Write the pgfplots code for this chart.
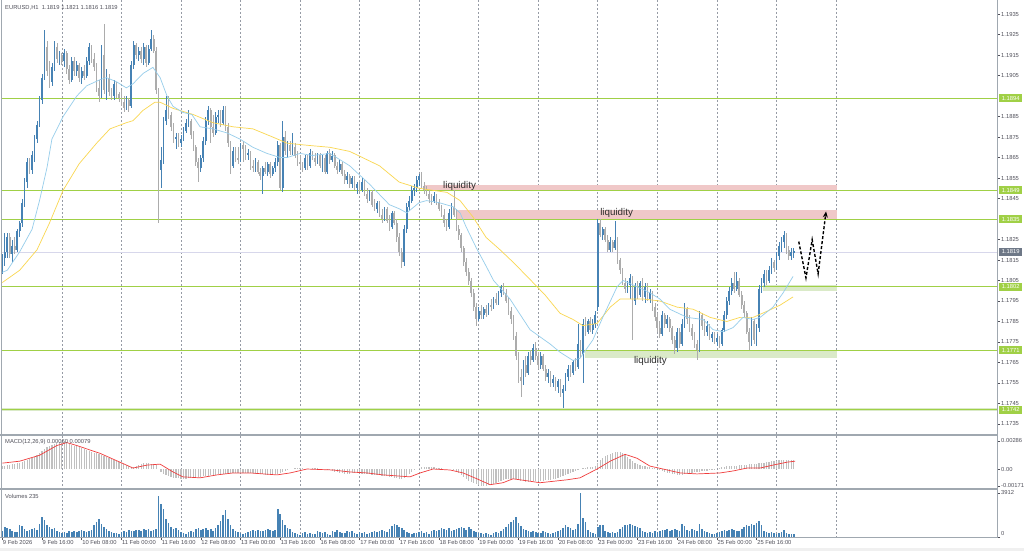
\documentclass[border=0pt]{standalone}
\usepackage{fontspec}
\setmainfont{Liberation Sans}
\usepackage{pgfplots}
\pgfplotsset{compat=1.18}
\usepackage{pgfplotstable}
\usetikzlibrary{arrows.meta}
\definecolor{cup}{RGB}{70,130,180}
\definecolor{cdn}{RGB}{172,172,172}
\definecolor{lvl}{RGB}{160,208,70}
\definecolor{mablue}{RGB}{150,205,235}
\definecolor{mayel}{RGB}{250,215,80}
\definecolor{liqred}{RGB}{240,200,200}
\definecolor{liqgreen}{RGB}{218,234,200}
\definecolor{sepc}{RGB}{160,168,176}
\definecolor{gridc}{RGB}{150,155,165}
\definecolor{labc}{RGB}{80,80,90}
\definecolor{histc}{RGB}{192,192,192}
\definecolor{sigc}{RGB}{240,60,60}
\definecolor{bidc}{RGB}{215,215,235}
\definecolor{boxgray}{RGB}{110,120,135}
\definecolor{liqtext}{RGB}{45,45,45}
\newcommand{\smallfnt}{\fontsize{5.8bp}{6.5bp}\selectfont}
\newcommand{\liqfnt}{\fontsize{9.8bp}{11bp}\selectfont}

\pgfplotstableread{
i o h l c v m
0 1.1813 1.1818 1.1808 1.1816 534 0.0003
1 1.1816 1.1828 1.1812 1.1819 890 0.0003
2 1.1819 1.1828 1.1816 1.1826 801 0.0004
3 1.1826 1.1828 1.1816 1.1818 712 0.0004
4 1.1818 1.1825 1.1814 1.1822 534 0.0005
5 1.1822 1.1826 1.1818 1.1820 445 0.0005
6 1.1820 1.1830 1.1819 1.1829 445 0.0006
7 1.1829 1.1834 1.1826 1.1833 1068 0.0006
8 1.1833 1.1845 1.1831 1.1843 979 0.0007
9 1.1843 1.1855 1.1841 1.1853 712 0.0008
10 1.1853 1.1865 1.1850 1.1863 534 0.0009
11 1.1863 1.1865 1.1857 1.1859 623 0.0010
12 1.1859 1.1868 1.1857 1.1866 712 0.0011
13 1.1866 1.1876 1.1863 1.1874 801 0.0012
14 1.1874 1.1883 1.1872 1.1881 623 0.0014
15 1.1881 1.1895 1.1880 1.1893 1157 0.0016
16 1.1893 1.1906 1.1891 1.1904 1780 0.0018
17 1.1904 1.1927 1.1903 1.1919 1513 0.0020
18 1.1919 1.1922 1.1905 1.1907 1068 0.0022
19 1.1907 1.1912 1.1899 1.1902 890 0.0024
20 1.1902 1.1911 1.1900 1.1909 712 0.0025
21 1.1909 1.1922 1.1907 1.1919 801 0.0026
22 1.1919 1.1921 1.1911 1.1913 534 0.0027
23 1.1913 1.1917 1.1910 1.1915 445 0.0028
24 1.1915 1.1916 1.1910 1.1912 356 0.0028
25 1.1912 1.1918 1.1909 1.1916 445 0.0028
26 1.1916 1.1917 1.1906 1.1908 356 0.0027
27 1.1908 1.1910 1.1901 1.1903 534 0.0026
28 1.1903 1.1914 1.1902 1.1912 445 0.0025
29 1.1912 1.1914 1.1905 1.1907 534 0.0024
30 1.1907 1.1912 1.1905 1.1910 445 0.0023
31 1.1910 1.1911 1.1902 1.1904 534 0.0022
32 1.1904 1.1909 1.1901 1.1907 623 0.0021
33 1.1907 1.1910 1.1903 1.1905 534 0.0020
34 1.1905 1.1914 1.1904 1.1912 445 0.0019
35 1.1912 1.1921 1.1910 1.1919 534 0.0018
36 1.1919 1.1920 1.1911 1.1913 623 0.0017
37 1.1913 1.1916 1.1907 1.1909 1068 0.0016
38 1.1909 1.1911 1.1897 1.1899 1335 0.0016
39 1.1899 1.1903 1.1892 1.1895 1602 0.0015
40 1.1895 1.1920 1.1894 1.1915 1157 0.0014
41 1.1915 1.1930 1.1896 1.1898 890 0.0013
42 1.1898 1.1908 1.1893 1.1904 712 0.0012
43 1.1904 1.1906 1.1895 1.1897 534 0.0011
44 1.1897 1.1899 1.1893 1.1895 445 0.0010
45 1.1895 1.1903 1.1893 1.1901 356 0.0009
46 1.1901 1.1902 1.1894 1.1896 356 0.0008
47 1.1896 1.1897 1.1892 1.1894 267 0.0007
48 1.1894 1.1898 1.1890 1.1892 445 0.0006
49 1.1892 1.1895 1.1887 1.1889 534 0.0005
50 1.1889 1.1895 1.1888 1.1893 445 0.0004
51 1.1893 1.1894 1.1887 1.1890 623 0.0003
52 1.1890 1.1912 1.1889 1.1910 534 0.0002
53 1.1910 1.1922 1.1908 1.1920 534 0.0002
54 1.1920 1.1921 1.1913 1.1915 623 0.0003
55 1.1915 1.1919 1.1912 1.1917 623 0.0004
56 1.1917 1.1919 1.1911 1.1913 534 0.0005
57 1.1913 1.1921 1.1910 1.1919 712 0.0006
58 1.1919 1.1920 1.1909 1.1911 623 0.0006
59 1.1911 1.1920 1.1910 1.1918 712 0.0006
60 1.1918 1.1927 1.1917 1.1923 534 0.0005
61 1.1923 1.1925 1.1916 1.1917 623 0.0005
62 1.1917 1.1919 1.1896 1.1898 712 0.0004
63 1.1898 1.1899 1.1833 1.1859 3649 0.0000
64 1.1859 1.1870 1.1850 1.1864 2937 -0.0003
65 1.1864 1.1885 1.1862 1.1883 2492 -0.0005
66 1.1883 1.1895 1.1881 1.1888 1602 -0.0006
67 1.1888 1.1895 1.1884 1.1886 1246 -0.0007
68 1.1886 1.1887 1.1878 1.1880 890 -0.0008
69 1.1880 1.1882 1.1872 1.1874 712 -0.0009
70 1.1874 1.1877 1.1869 1.1875 801 -0.0009
71 1.1875 1.1877 1.1870 1.1872 623 -0.0009
72 1.1872 1.1876 1.1870 1.1874 445 -0.0010
73 1.1874 1.1880 1.1873 1.1878 356 -0.0010
74 1.1878 1.1884 1.1877 1.1882 267 -0.0010
75 1.1882 1.1888 1.1880 1.1883 445 -0.0009
76 1.1883 1.1884 1.1874 1.1876 534 -0.0009
77 1.1876 1.1878 1.1868 1.1870 445 -0.0009
78 1.1870 1.1871 1.1861 1.1863 712 -0.0008
79 1.1863 1.1865 1.1853 1.1860 801 -0.0008
80 1.1860 1.1866 1.1858 1.1865 623 -0.0008
81 1.1865 1.1875 1.1863 1.1873 712 -0.0007
82 1.1873 1.1885 1.1871 1.1883 801 -0.0007
83 1.1883 1.1890 1.1881 1.1888 623 -0.0007
84 1.1888 1.1889 1.1872 1.1880 712 -0.0006
85 1.1880 1.1886 1.1875 1.1877 534 -0.0006
86 1.1877 1.1887 1.1876 1.1885 801 -0.0006
87 1.1885 1.1888 1.1882 1.1886 1068 -0.0005
88 1.1886 1.1888 1.1880 1.1882 1424 -0.0005
89 1.1882 1.1890 1.1881 1.1888 1958 -0.0005
90 1.1888 1.1890 1.1878 1.1880 2403 -0.0005
91 1.1880 1.1882 1.1870 1.1872 1602 -0.0004
92 1.1872 1.1873 1.1857 1.1861 1068 -0.0004
93 1.1861 1.1870 1.1860 1.1868 712 -0.0004
94 1.1868 1.1870 1.1863 1.1865 534 -0.0004
95 1.1865 1.1870 1.1862 1.1864 445 -0.0004
96 1.1864 1.1872 1.1863 1.1871 356 -0.0004
97 1.1871 1.1873 1.1863 1.1869 267 -0.0004
98 1.1869 1.1871 1.1864 1.1866 356 -0.0004
99 1.1866 1.1869 1.1864 1.1867 445 -0.0004
100 1.1867 1.1868 1.1859 1.1861 534 -0.0004
101 1.1861 1.1864 1.1858 1.1860 623 -0.0004
102 1.1860 1.1865 1.1858 1.1863 534 -0.0005
103 1.1863 1.1864 1.1857 1.1858 623 -0.0005
104 1.1858 1.1860 1.1854 1.1856 534 -0.0005
105 1.1856 1.1861 1.1847 1.1860 534 -0.0005
106 1.1860 1.1863 1.1857 1.1858 623 -0.0006
107 1.1858 1.1863 1.1856 1.1862 712 -0.0006
108 1.1862 1.1863 1.1855 1.1857 623 -0.0006
109 1.1857 1.1861 1.1856 1.1860 534 -0.0006
110 1.1860 1.1865 1.1858 1.1863 623 -0.0005
111 1.1863 1.1873 1.1861 1.1871 2492 -0.0005
112 1.1871 1.1872 1.1849 1.1850 2047 -0.0004
113 1.1850 1.1883 1.1848 1.1875 1513 -0.0003
114 1.1875 1.1878 1.1866 1.1868 1068 -0.0002
115 1.1868 1.1873 1.1865 1.1871 801 -0.0001
116 1.1871 1.1873 1.1866 1.1868 712 0.0000
117 1.1868 1.1877 1.1866 1.1870 445 0.0000
118 1.1870 1.1872 1.1865 1.1866 356 0.0001
119 1.1866 1.1868 1.1861 1.1863 267 0.0001
120 1.1863 1.1866 1.1860 1.1862 178 0.0001
121 1.1862 1.1863 1.1858 1.1860 356 0.0001
122 1.1860 1.1866 1.1859 1.1865 445 0.0000
123 1.1865 1.1866 1.1859 1.1861 267 0.0000
124 1.1861 1.1869 1.1860 1.1867 356 0.0000
125 1.1867 1.1868 1.1864 1.1865 267 0.0001
126 1.1865 1.1867 1.1861 1.1863 267 0.0001
127 1.1863 1.1867 1.1862 1.1866 534 0.0001
128 1.1866 1.1867 1.1860 1.1861 445 0.0000
129 1.1861 1.1866 1.1858 1.1865 356 0.0000
130 1.1865 1.1866 1.1857 1.1858 445 0.0000
131 1.1858 1.1868 1.1857 1.1867 267 -0.0001
132 1.1867 1.1869 1.1862 1.1864 178 -0.0001
133 1.1864 1.1868 1.1863 1.1866 534 -0.0002
134 1.1866 1.1867 1.1860 1.1861 445 -0.0003
135 1.1861 1.1863 1.1857 1.1859 623 -0.0003
136 1.1859 1.1864 1.1858 1.1862 445 -0.0004
137 1.1862 1.1863 1.1856 1.1857 356 -0.0004
138 1.1857 1.1859 1.1852 1.1854 356 -0.0005
139 1.1854 1.1858 1.1852 1.1856 534 -0.0005
140 1.1856 1.1857 1.1850 1.1852 445 -0.0005
141 1.1852 1.1856 1.1850 1.1855 534 -0.0004
142 1.1855 1.1856 1.1849 1.1850 356 -0.0004
143 1.1850 1.1853 1.1847 1.1852 267 -0.0004
144 1.1852 1.1854 1.1848 1.1849 445 -0.0004
145 1.1849 1.1855 1.1848 1.1853 356 -0.0005
146 1.1853 1.1854 1.1846 1.1847 445 -0.0005
147 1.1847 1.1850 1.1843 1.1845 267 -0.0005
148 1.1845 1.1849 1.1844 1.1848 356 -0.0005
149 1.1848 1.1849 1.1841 1.1842 445 -0.0006
150 1.1842 1.1845 1.1839 1.1840 534 -0.0006
151 1.1840 1.1844 1.1838 1.1843 445 -0.0006
152 1.1843 1.1844 1.1836 1.1837 534 -0.0006
153 1.1837 1.1840 1.1833 1.1835 623 -0.0007
154 1.1835 1.1841 1.1834 1.1840 534 -0.0007
155 1.1840 1.1841 1.1833 1.1834 445 -0.0007
156 1.1834 1.1837 1.1829 1.1831 712 -0.0008
157 1.1831 1.1839 1.1830 1.1838 979 -0.0008
158 1.1838 1.1839 1.1832 1.1833 1157 -0.0009
159 1.1833 1.1835 1.1824 1.1826 1068 -0.0009
160 1.1826 1.1828 1.1817 1.1819 890 -0.0010
161 1.1819 1.1821 1.1811 1.1814 801 -0.0010
162 1.1814 1.1832 1.1812 1.1830 623 -0.0009
163 1.1830 1.1843 1.1828 1.1841 445 -0.0007
164 1.1841 1.1846 1.1839 1.1844 356 -0.0005
165 1.1844 1.1851 1.1843 1.1849 267 -0.0003
166 1.1849 1.1852 1.1846 1.1850 356 -0.0001
167 1.1850 1.1856 1.1848 1.1854 356 0.0000
168 1.1854 1.1857 1.1851 1.1856 445 0.0001
169 1.1856 1.1858 1.1850 1.1851 534 0.0002
170 1.1851 1.1853 1.1847 1.1849 356 0.0002
171 1.1849 1.1851 1.1846 1.1847 445 0.0002
172 1.1847 1.1849 1.1843 1.1845 267 0.0002
173 1.1845 1.1847 1.1842 1.1844 534 0.0002
174 1.1844 1.1848 1.1843 1.1846 623 0.0002
175 1.1846 1.1847 1.1842 1.1843 534 0.0001
176 1.1843 1.1845 1.1839 1.1840 623 0.0001
177 1.1840 1.1842 1.1836 1.1837 801 0.0001
178 1.1837 1.1840 1.1831 1.1833 712 0.0000
179 1.1833 1.1835 1.1829 1.1831 623 0.0000
180 1.1831 1.1840 1.1830 1.1838 801 0.0000
181 1.1838 1.1843 1.1835 1.1841 534 0.0000
182 1.1841 1.1849 1.1836 1.1837 623 -0.0001
183 1.1837 1.1840 1.1829 1.1830 712 -0.0002
184 1.1830 1.1832 1.1825 1.1827 801 -0.0004
185 1.1827 1.1828 1.1819 1.1821 890 -0.0006
186 1.1821 1.1822 1.1812 1.1814 801 -0.0008
187 1.1814 1.1816 1.1807 1.1809 623 -0.0010
188 1.1809 1.1811 1.1803 1.1805 890 -0.0012
189 1.1805 1.1806 1.1797 1.1799 712 -0.0013
190 1.1799 1.1801 1.1790 1.1792 534 -0.0014
191 1.1792 1.1794 1.1783 1.1786 445 -0.0015
192 1.1786 1.1792 1.1785 1.1790 356 -0.0016
193 1.1790 1.1793 1.1786 1.1788 356 -0.0017
194 1.1788 1.1792 1.1786 1.1791 267 -0.0017
195 1.1791 1.1793 1.1787 1.1789 356 -0.0017
196 1.1789 1.1794 1.1788 1.1793 267 -0.0016
197 1.1793 1.1796 1.1790 1.1792 178 -0.0016
198 1.1792 1.1797 1.1791 1.1796 356 -0.0015
199 1.1796 1.1799 1.1793 1.1794 445 -0.0014
200 1.1794 1.1800 1.1793 1.1799 356 -0.0013
201 1.1799 1.1803 1.1797 1.1802 534 -0.0012
202 1.1802 1.1804 1.1798 1.1799 712 -0.0011
203 1.1799 1.1801 1.1794 1.1795 890 -0.0010
204 1.1795 1.1797 1.1788 1.1790 1157 -0.0010
205 1.1790 1.1792 1.1784 1.1786 1335 -0.0010
206 1.1786 1.1788 1.1776 1.1778 1513 -0.0010
207 1.1778 1.1780 1.1766 1.1768 1780 -0.0010
208 1.1768 1.1770 1.1755 1.1758 1246 -0.0011
209 1.1758 1.1762 1.1748 1.1756 979 -0.0012
210 1.1756 1.1766 1.1754 1.1764 712 -0.0012
211 1.1764 1.1768 1.1758 1.1760 623 -0.0013
212 1.1760 1.1770 1.1759 1.1768 534 -0.0013
213 1.1768 1.1771 1.1764 1.1766 445 -0.0012
214 1.1766 1.1774 1.1765 1.1772 534 -0.0012
215 1.1772 1.1775 1.1766 1.1768 445 -0.0012
216 1.1768 1.1770 1.1762 1.1764 356 -0.0012
217 1.1764 1.1770 1.1762 1.1768 356 -0.0012
218 1.1768 1.1769 1.1761 1.1762 534 -0.0012
219 1.1762 1.1764 1.1756 1.1758 445 -0.0011
220 1.1758 1.1762 1.1755 1.1760 356 -0.0011
221 1.1760 1.1761 1.1753 1.1755 267 -0.0011
222 1.1755 1.1759 1.1753 1.1757 356 -0.0010
223 1.1757 1.1758 1.1751 1.1753 445 -0.0010
224 1.1753 1.1757 1.1750 1.1756 534 -0.0009
225 1.1756 1.1757 1.1748 1.1750 623 -0.0008
226 1.1750 1.1754 1.1743 1.1752 801 -0.0007
227 1.1752 1.1760 1.1751 1.1758 1068 -0.0006
228 1.1758 1.1764 1.1756 1.1762 890 -0.0005
229 1.1762 1.1764 1.1758 1.1760 801 -0.0004
230 1.1760 1.1766 1.1759 1.1765 623 -0.0003
231 1.1765 1.1767 1.1761 1.1763 712 -0.0002
232 1.1763 1.1784 1.1762 1.1774 1157 -0.0001
233 1.1774 1.1776 1.1767 1.1769 3912 0.0000
234 1.1769 1.1786 1.1755 1.1784 1691 0.0001
235 1.1784 1.1787 1.1778 1.1780 1335 0.0001
236 1.1780 1.1786 1.1779 1.1785 623 0.0002
237 1.1785 1.1787 1.1780 1.1781 445 0.0002
238 1.1781 1.1786 1.1779 1.1784 356 0.0002
239 1.1784 1.1790 1.1782 1.1788 267 0.0003
240 1.1792 1.1835 1.1790 1.1833 890 0.0006
241 1.1833 1.1835 1.1826 1.1827 1068 0.0009
242 1.1827 1.1831 1.1825 1.1830 1068 0.0011
243 1.1830 1.1831 1.1824 1.1825 534 0.0013
244 1.1825 1.1827 1.1819 1.1820 445 0.0014
245 1.1820 1.1826 1.1819 1.1824 356 0.0015
246 1.1824 1.1825 1.1819 1.1821 445 0.0016
247 1.1821 1.1834 1.1820 1.1825 356 0.0017
248 1.1825 1.1826 1.1813 1.1815 445 0.0017
249 1.1815 1.1816 1.1808 1.1810 712 0.0017
250 1.1810 1.1811 1.1803 1.1804 890 0.0016
251 1.1804 1.1806 1.1799 1.1801 1068 0.0014
252 1.1801 1.1805 1.1799 1.1803 1068 0.0012
253 1.1803 1.1808 1.1796 1.1806 1157 0.0010
254 1.1806 1.1807 1.1776 1.1795 1068 0.0008
255 1.1795 1.1804 1.1793 1.1802 979 0.0006
256 1.1802 1.1805 1.1796 1.1798 890 0.0005
257 1.1798 1.1805 1.1797 1.1804 801 0.0004
258 1.1804 1.1806 1.1795 1.1797 534 0.0003
259 1.1797 1.1804 1.1794 1.1802 445 0.0003
260 1.1802 1.1804 1.1795 1.1796 356 0.0002
261 1.1796 1.1801 1.1794 1.1799 445 0.0002
262 1.1799 1.1800 1.1790 1.1792 356 0.0001
263 1.1792 1.1794 1.1785 1.1787 534 0.0001
264 1.1787 1.1789 1.1780 1.1782 445 0.0000
265 1.1782 1.1785 1.1777 1.1779 534 -0.0001
266 1.1779 1.1790 1.1778 1.1788 623 -0.0002
267 1.1788 1.1789 1.1782 1.1784 623 -0.0003
268 1.1784 1.1788 1.1782 1.1786 712 -0.0004
269 1.1786 1.1787 1.1780 1.1782 534 -0.0004
270 1.1782 1.1783 1.1774 1.1776 623 -0.0005
271 1.1776 1.1778 1.1769 1.1772 712 -0.0005
272 1.1772 1.1782 1.1770 1.1780 623 -0.0006
273 1.1780 1.1782 1.1772 1.1774 534 -0.0006
274 1.1774 1.1786 1.1773 1.1784 1157 -0.0006
275 1.1784 1.1794 1.1782 1.1791 979 -0.0005
276 1.1791 1.1792 1.1784 1.1786 623 -0.0005
277 1.1786 1.1788 1.1780 1.1782 534 -0.0004
278 1.1782 1.1784 1.1776 1.1778 712 -0.0004
279 1.1778 1.1780 1.1772 1.1774 623 -0.0003
280 1.1774 1.1776 1.1766 1.1771 534 -0.0003
281 1.1771 1.1790 1.1770 1.1788 1157 -0.0003
282 1.1788 1.1789 1.1781 1.1783 712 -0.0002
283 1.1783 1.1786 1.1778 1.1780 534 -0.0002
284 1.1780 1.1785 1.1778 1.1783 445 -0.0002
285 1.1783 1.1784 1.1776 1.1777 356 -0.0001
286 1.1777 1.1780 1.1775 1.1779 267 -0.0001
287 1.1779 1.1780 1.1774 1.1775 267 -0.0001
288 1.1775 1.1779 1.1773 1.1777 356 0.0000
289 1.1777 1.1778 1.1772 1.1774 445 0.0001
290 1.1774 1.1782 1.1773 1.1781 534 0.0002
291 1.1781 1.1790 1.1780 1.1788 623 0.0002
292 1.1788 1.1797 1.1786 1.1795 534 0.0003
293 1.1795 1.1802 1.1793 1.1800 623 0.0003
294 1.1800 1.1806 1.1798 1.1804 712 0.0003
295 1.1804 1.1809 1.1799 1.1801 623 0.0003
296 1.1801 1.1809 1.1800 1.1805 534 0.0003
297 1.1805 1.1806 1.1797 1.1798 534 0.0004
298 1.1798 1.1800 1.1791 1.1793 712 0.0004
299 1.1793 1.1795 1.1787 1.1789 890 0.0004
300 1.1789 1.1790 1.1779 1.1780 1068 0.0004
301 1.1780 1.1782 1.1771 1.1775 979 0.0005
302 1.1775 1.1787 1.1773 1.1785 1157 0.0005
303 1.1785 1.1786 1.1774 1.1776 1068 0.0005
304 1.1776 1.1784 1.1773 1.1782 1246 0.0005
305 1.1782 1.1803 1.1780 1.1801 1424 0.0006
306 1.1801 1.1806 1.1799 1.1804 1068 0.0006
307 1.1804 1.1810 1.1802 1.1808 534 0.0006
308 1.1808 1.1810 1.1803 1.1805 445 0.0007
309 1.1805 1.1812 1.1804 1.1810 356 0.0007
310 1.1810 1.1816 1.1808 1.1814 445 0.0008
311 1.1814 1.1815 1.1809 1.1811 356 0.0008
312 1.1811 1.1819 1.1810 1.1817 267 0.0008
313 1.1817 1.1824 1.1815 1.1822 356 0.0009
314 1.1822 1.1826 1.1819 1.1824 445 0.0009
315 1.1824 1.1829 1.1821 1.1827 623 0.0009
316 1.1827 1.1828 1.1818 1.1820 356 0.0009
317 1.1820 1.1822 1.1815 1.1817 267 0.0009
318 1.1817 1.1821 1.1815 1.1819 267 0.0009
319 1.1819 1.1821 1.1816 1.1819 235 0.0009
}\ohlc

\pgfplotstableread{
i p
0 1.1809
2 1.1810
7 1.1819
12 1.1830
15 1.1844
18 1.1860
20 1.1874
24.5 1.1885
30 1.1895
34 1.1900
39.4 1.1903
42 1.1904
46 1.1902
50 1.1899
52.7 1.1901
56.7 1.1906
60.7 1.1909
63.6 1.1904
66.4 1.1895
68.8 1.1890
72.8 1.1887
76.4 1.1886
79.7 1.1880
84.9 1.1879
90.6 1.1877
95.8 1.1874
101 1.1870
106.7 1.1867
112 1.1865
114.8 1.1865
120 1.1867
125 1.1866
132 1.1867
140 1.1861
148 1.1852
156 1.1842
160 1.1840
163 1.1838
168 1.1843
171 1.1844
176 1.1843
181.7 1.1841
184.5 1.1838
187 1.1831
191 1.1821
195 1.1812
198 1.1805
204.6 1.1796
212.7 1.1781
220.8 1.1774
224.8 1.1770
230 1.1766
232.8 1.1767
238 1.1776
242 1.1787
247.8 1.1802
250.2 1.1805
255.8 1.1802
261 1.1799
265 1.1796
269 1.1791
276 1.1787
282.4 1.1786
286.5 1.1781
290.5 1.1780
294.5 1.1782
298.5 1.1787
302.6 1.1786
305.4 1.1787
310.6 1.1792
314.7 1.1799
318.7 1.1807
}\mab

\pgfplotstableread{
i p
0 1.1804
7 1.1810
14 1.1820
19 1.1833
24.5 1.1849
31 1.1862
38 1.1872
43.4 1.1879
50 1.1882
52.7 1.1883
56.7 1.1888
61.5 1.1892
63.6 1.1892
68.8 1.1889
76.9 1.1886
84.9 1.1882
93 1.1880
101 1.1879
109 1.1875
114.8 1.1872
122.8 1.1871
132 1.1870
140 1.1868
152 1.1861
160 1.1853
168 1.1850
173.6 1.1849
179.2 1.1848
184.5 1.1844
189.7 1.1836
195 1.1826
200.6 1.1820
205.8 1.1814
211.5 1.1807
218.7 1.1798
224.8 1.1789
230 1.1786
234 1.1783
239.7 1.1784
245 1.1792
249 1.1796
258.2 1.1796
265 1.1795
272 1.1792
278.4 1.1791
285.3 1.1787
292 1.1785
297.3 1.1787
302.6 1.1787
308.2 1.1790
313.5 1.1793
318.7 1.1797
}\may

\pgfplotstableread{
i s
0 0.0006
7 0.0008
15 0.0014
22 0.0024
26 0.0027
30 0.0024
39.4 0.0016
47.4 0.0007
52.7 0.0001
58.3 0.0004
63.6 0.0005
68.8 -0.0003
72.8 -0.0008
79.7 -0.0009
86.5 -0.0006
93 -0.0004
99.8 -0.0004
110.7 -0.0006
116 -0.0004
122.8 0.0000
133.3 -0.0001
140 -0.0003
147 -0.0004
153.4 -0.0006
159 -0.0007
164.3 -0.0008
168.4 -0.0004
173.6 0.0000
180.5 -0.0001
185.7 -0.0004
191.3 -0.0010
196.6 -0.0016
201.8 -0.0014
205.8 -0.0010
211.5 -0.0012
216.7 -0.0014
227.6 -0.0011
232.8 -0.0009
239.7 0.0000
245 0.0008
251 0.0015
255.8 0.0011
261 0.0003
266.3 0.0000
273.2 -0.0004
280 -0.0005
289.3 -0.0004
294.5 -0.0002
300.2 0.0001
305.4 0.0001
310.6 0.0004
316.3 0.0007
319.5 0.0008
}\sig

\pgfplotsset{
  panel/.style={anchor=north west, scale only axis, width=995bp,
    xmin=-0.12, xmax=400.9, axis line style={draw=none},
    ytick pos=right, yticklabel pos=right, tick align=outside,
    major tick length=3bp, tick style={draw=labc, line width=0.5bp},
    yticklabel style={font=\smallfnt, text=labc, inner sep=1bp},
    scaled y ticks=false},
  upc/.style={forget plot, restrict expr to domain={\thisrow{c}-\thisrow{o}}{0:1}},
  dnc/.style={forget plot, restrict expr to domain={\thisrow{c}-\thisrow{o}}{-1:-0.00001}},
}

\begin{document}
\begin{tikzpicture}[x=1bp,y=1bp]
\path[use as bounding box] (0,0) rectangle (1024,-551);
\fill[white] (0,0) rectangle (1024,-551);
\fill[black!6] (0,-548) rectangle (1024,-551);
\foreach \k in {1,...,14}{
  \draw[gridc, line width=0.6bp, dash pattern=on 2bp off 2bp] ({2.298+59.548*\k},0) -- ({2.298+59.548*\k},-537);
}

% ---------- main price panel ----------
\begin{axis}[panel, at={(2bp,-2bp)}, height=432bp,
  ymin=1.17301, ymax=1.19409, clip=false, xtick=\empty,
  ytick={1.1735,1.1745,1.1755,1.1765,1.1775,1.1785,1.1795,1.1805,1.1815,1.1825,1.1845,1.1855,1.1865,1.1875,1.1885,1.1905,1.1915,1.1925,1.1935},
  yticklabels={1.1735,1.1745,1.1755,1.1765,1.1775,1.1785,1.1795,1.1805,1.1815,1.1825,1.1845,1.1855,1.1865,1.1875,1.1885,1.1905,1.1915,1.1925,1.1935}]
  % liquidity zones
  \fill[liqred] (170.4,1.1849) rectangle (336.4,1.18517);
  \fill[liqred] (183.3,1.1835) rectangle (336.4,1.18392);
  \fill[liqgreen] (235.0,1.17673) rectangle (336.4,1.1771);
  \fill[liqgreen] (306.7,1.17998) rectangle (336.4,1.18027);
  % levels
  \draw[liqgreen, line width=3bp] (-0.12,1.1742) -- (400.9,1.1742);
  \draw[lvl, line width=0.8bp] (-0.12,1.1742) -- (400.9,1.1742);
  \pgfplotsinvokeforeach{1.1894,1.1849,1.1835,1.1802,1.1771}{
    \draw[lvl, line width=0.9bp] (-0.12,#1) -- (400.9,#1);
  }
  \draw[bidc, line width=0.6bp] (-0.12,1.1819) -- (400.9,1.1819);
  % candles: wicks
  \addplot[draw=none, upc, error bars/.cd, y dir=both, y explicit, error mark=none,
    error bar style={draw=cup, line width=0.7bp}]
    table[x=i, y expr={0.5*(\thisrow{h}+\thisrow{l})}, y error expr={0.5*(\thisrow{h}-\thisrow{l})}] {\ohlc};
  \addplot[draw=none, dnc, error bars/.cd, y dir=both, y explicit, error mark=none,
    error bar style={draw=cdn, line width=0.7bp}]
    table[x=i, y expr={0.5*(\thisrow{h}+\thisrow{l})}, y error expr={0.5*(\thisrow{h}-\thisrow{l})}] {\ohlc};
  % candles: bodies
  \addplot[draw=none, upc, error bars/.cd, y dir=both, y explicit, error mark=none,
    error bar style={draw=cup, line width=1.7bp}]
    table[x=i, y expr={0.5*(\thisrow{o}+\thisrow{c})}, y error expr={max(0.5*abs(\thisrow{c}-\thisrow{o}),0.00002)}] {\ohlc};
  \addplot[draw=none, dnc, error bars/.cd, y dir=both, y explicit, error mark=none,
    error bar style={draw=cdn, line width=1.7bp}]
    table[x=i, y expr={0.5*(\thisrow{o}+\thisrow{c})}, y error expr={max(0.5*abs(\thisrow{c}-\thisrow{o}),0.00002)}] {\ohlc};
  % moving averages
  \addplot[mayel, line width=0.7bp] table[x=i, y=p] {\may};
  \addplot[mablue, line width=0.7bp] table[x=i, y=p] {\mab};
  % annotations
  \node[font=\liqfnt, text=liqtext, inner sep=0] at (184.3,1.18512) {liquidity};
  \node[font=\liqfnt, text=liqtext, inner sep=0] at (247.6,1.18378) {liquidity};
  \node[font=\liqfnt, text=liqtext, inner sep=0] at (261.2,1.17658) {liquidity};
  \draw[black, line width=1.4bp, dash pattern=on 3bp off 2bp, -{Stealth[length=6bp,width=5bp]}]
    (321,1.1824) -- (323.9,1.18063) -- (326.4,1.18249) -- (328.8,1.18083) -- (332,1.18387);
  % price boxes on the scale
  \pgfplotsinvokeforeach{1.1894,1.1849,1.1835,1.1802,1.1771,1.1742}{
    \node[fill=lvl, text=white, font=\smallfnt, inner sep=0, minimum width=23bp, minimum height=8bp, anchor=west]
      at ([xshift=2bp]axis cs:400.9,#1) {#1};
  }
  \node[fill=boxgray, text=white, font=\smallfnt, inner sep=0, minimum width=23bp, minimum height=8bp, anchor=west]
      at ([xshift=2bp]axis cs:400.9,1.1819) {1.1819};
\end{axis}

% ---------- MACD panel ----------
\begin{axis}[panel, at={(2bp,-436bp)}, height=53bp,
  ymin=-0.00204, ymax=0.00337, xtick=\empty,
  ytick={-0.00171,0,0.00286}, yticklabels={-0.00171,0.00,0.00286}]
  \addplot[ycomb, draw=histc, line width=1.2bp, mark=none] table[x=i, y=m] {\ohlc};
  \addplot[sigc, line width=0.7bp] table[x=i, y=s] {\sig};
\end{axis}

% ---------- Volume panel ----------
\begin{axis}[panel, at={(2bp,-490bp)}, height=47bp,
  ymin=0, ymax=4178,
  ytick={3912}, yticklabels={3912},
  extra y ticks={0}, extra y tick labels={0},
  extra y tick style={yticklabel style={anchor=south west}},
  xtick={0,16,32,48,64,80,96,112,128,144,160,176,192,208,224,240,256,272,288,304},
  xticklabels={9 Feb 2026,9 Feb 16:00,10 Feb 08:00,11 Feb 00:00,11 Feb 16:00,12 Feb 08:00,13 Feb 00:00,13 Feb 16:00,16 Feb 08:00,17 Feb 00:00,17 Feb 16:00,18 Feb 08:00,19 Feb 00:00,19 Feb 16:00,20 Feb 08:00,23 Feb 00:00,23 Feb 16:00,24 Feb 08:00,25 Feb 00:00,25 Feb 16:00},
  xtick pos=bottom,
  xticklabel style={anchor=north west, font=\smallfnt, text=labc, inner sep=0.5bp}]
  \addplot[ycomb, draw=cup, line width=1.6bp, mark=none] table[x=i, y=v] {\ohlc};
\end{axis}

% frames
\draw[sepc, line width=2bp] (0,-435) -- (997,-435);
\draw[sepc, line width=2bp] (0,-489) -- (997,-489);
\draw[sepc, line width=1bp] (0,-537.5) -- (998,-537.5);
\draw[sepc, line width=1bp] (997.5,0) -- (997.5,-537.5);
\draw[sepc, line width=1bp] (1,0) -- (1,-537.5);

% panel titles
\node[font=\smallfnt, text=labc, anchor=west, inner sep=0] at (5,-8) {EURUSD,H1\ \ 1.1819 1.1821 1.1816 1.1819};
\node[font=\smallfnt, text=labc, anchor=west, inner sep=0] at (5,-442) {MACD(12,26,9) 0.00060 0.00079};
\node[font=\smallfnt, text=labc, anchor=west, inner sep=0] at (5,-496) {Volumes 235};
\end{tikzpicture}
\end{document}
